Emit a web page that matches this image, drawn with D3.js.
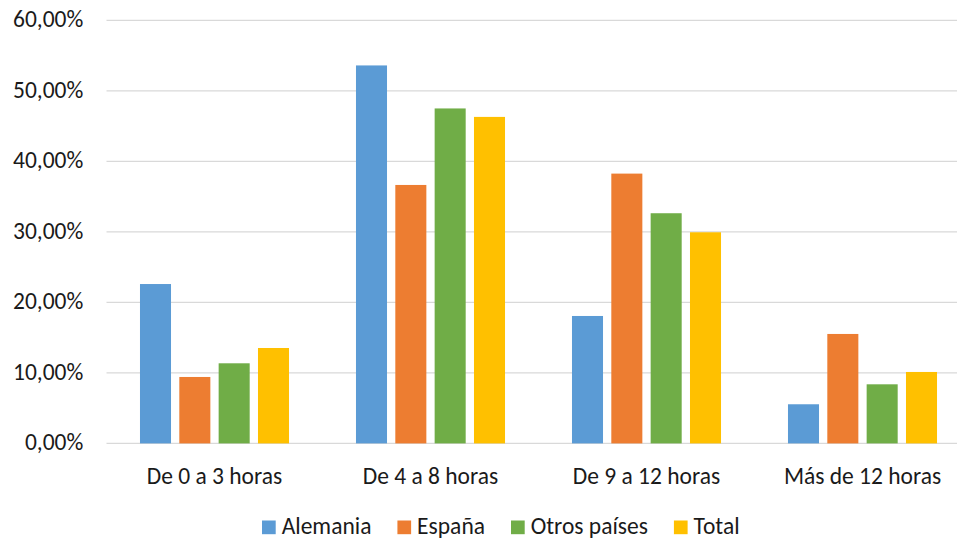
<!DOCTYPE html>
<html><head><meta charset="utf-8">
<script src="https://cdn.jsdelivr.net/npm/d3@7"></script>
<style>body{margin:0;background:#fff}svg{display:block}text{font-family:Calibri,Carlito,Lato,sans-serif;fill:#1a1a1a}</style>
</head><body><svg id="c" width="957" height="539"></svg>
<script>
const categories = ["De 0 a 3 horas","De 4 a 8 horas","De 9 a 12 horas","Más de 12 horas"];
const seriesNames = ["Alemania","España","Otros países","Total"];
const alemania = [22.6, 53.6, 18.07, 5.55];
const espana = [9.42, 36.65, 38.26, 15.52];
const otros = [11.36, 47.5, 32.64, 8.38];
const total = [13.53, 46.3, 29.94, 10.13];
const yTicks = [0,10,20,30,40,50,60];
const colors = ["#5B9BD5","#ED7D31","#70AD47","#FFC000"];
const seriesValues = [alemania, espana, otros, total];

const svg = d3.select("#c");
const fs = 23.5;
const x0 = d3.scaleBand().domain(categories).range([106.5, 970.5]).paddingInner(0.31).paddingOuter(0.155);
const x1 = d3.scaleBand().domain(seriesNames).range([0, x0.bandwidth()]).paddingInner(0.211).paddingOuter(0);
const y = d3.scaleLinear().domain([0,60]).range([443.4, 20.3]);

// gridlines
svg.append("g").selectAll("line").data(yTicks).join("line")
  .attr("x1",106.5).attr("x2",970.5).attr("y1",d=>y(d)).attr("y2",d=>y(d))
  .attr("stroke","#D9D9D9").attr("stroke-width",1.3);

// y labels
const fmt = d => d.toFixed(2).replace(".",",") + "%";
svg.append("g").selectAll("text").data(yTicks).join("text")
  .attr("x",83.3).attr("y",d=>y(d)+6.8).attr("text-anchor","end")
  .attr("font-size",fs).text(fmt);

// bars
const data = [];
categories.forEach((c,i)=>seriesNames.forEach((s,j)=>data.push({c,s,j,v:seriesValues[j][i]})));
svg.append("g").selectAll("rect").data(data).join("rect")
  .attr("x",d=>x0(d.c)+x1(d.s)).attr("width",x1.bandwidth())
  .attr("y",d=>y(d.v)).attr("height",d=>y(0)-y(d.v))
  .attr("fill",d=>colors[d.j]);

// x labels
svg.append("g").selectAll("text").data(categories).join("text")
  .attr("x",d=>x0(d)+x0.bandwidth()/2).attr("y",483.8)
  .attr("text-anchor","middle").attr("font-size",fs).text(d=>d);

// legend
const lg = svg.append("g");
const items = lg.selectAll("g").data(seriesNames).join("g");
items.append("rect").attr("width",13.7).attr("height",13.7).attr("y",520.5).attr("fill",(d,i)=>colors[i]);
items.append("text").attr("x",19.7).attr("y",534).attr("font-size",fs).text(d=>d);
let xpos = 262;
items.each(function(){
  d3.select(this).attr("transform",`translate(${xpos},0)`);
  const w = this.querySelector("text").getComputedTextLength();
  xpos += 19.7 + w + 26;
});
</script></body></html>
